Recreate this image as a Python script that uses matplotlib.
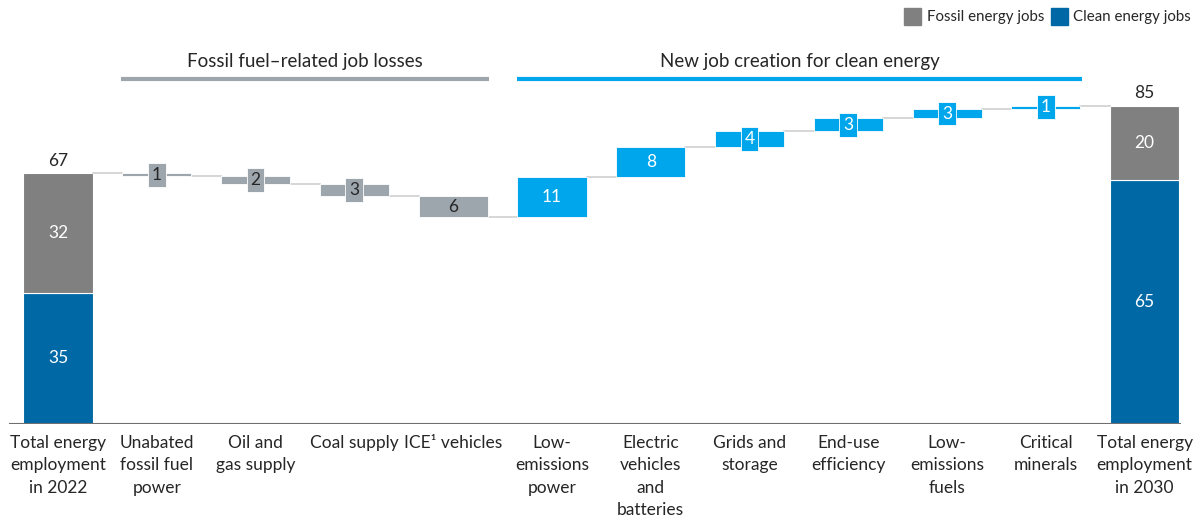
import matplotlib.pyplot as plt
from matplotlib.patches import Rectangle

plt.rcParams['font.family'] = ['Lato', 'DejaVu Sans']

# data (million jobs)
categories = ['Total energy\nemployment\nin 2022', 'Unabated\nfossil fuel\npower',
              'Oil and\ngas supply', 'Coal supply', 'ICE\u00b9 vehicles',
              'Low-\nemissions\npower', 'Electric\nvehicles\nand\nbatteries',
              'Grids and\nstorage', 'End-use\nefficiency', 'Low-\nemissions\nfuels',
              'Critical\nminerals', 'Total energy\nemployment\nin 2030']
start_clean, start_fossil = 35, 32
end_clean, end_fossil = 65, 20
start_total, end_total = 67, 85
loss_values = [-0.9, -2.0, -3.2, -5.7]
loss_labels = ['1', '2', '3', '6']
gain_values = [10.8, 8.0, 4.1, 3.5, 2.5, 0.9]
gain_labels = ['11', '8', '4', '3', '3', '1']

FOSSIL = '#808080'
CLEAN_DARK = '#0068A5'
LOSS = '#9DA5AD'
GAIN = '#00A6EB'
CONN = '#D0D0D0'
TXT = '#262626'

fig = plt.figure(figsize=(12, 5.21), dpi=100)
ax = fig.add_axes([0, 97 / 521, 1, 404.6 / 521])
ax.set_xlim(-0.587, 11.56)
ax.set_ylim(0, 108)
ax.axis('off')

w = 0.7
# start & end totals
ax.bar(0, start_clean, w, color=CLEAN_DARK, edgecolor='white', linewidth=0.8)
ax.bar(0, start_fossil, w, bottom=start_clean, color=FOSSIL, edgecolor='white', linewidth=0.8)
ax.bar(11, end_clean, w, color=CLEAN_DARK, edgecolor='white', linewidth=0.8)
ax.bar(11, end_fossil, w, bottom=end_clean, color=FOSSIL, edgecolor='white', linewidth=0.8)
ax.text(0, start_clean / 2, str(start_clean), ha='center', va='center', color='white', fontsize=12.5)
ax.text(0, start_clean + start_fossil / 2, str(start_fossil), ha='center', va='center', color='white', fontsize=12.5)
ax.text(11, end_clean / 2, str(end_clean), ha='center', va='center', color='white', fontsize=12.5)
ax.text(11, end_clean + end_fossil / 2, str(end_fossil), ha='center', va='center', color='white', fontsize=12.5)
ax.text(0, start_total + 1.2, str(start_total), ha='center', va='bottom', color=TXT, fontsize=12.5)
ax.text(11, end_total + 1.2, str(end_total), ha='center', va='bottom', color=TXT, fontsize=12.5)

# floating steps
deltas = loss_values + gain_values
labels = loss_labels + gain_labels
level = start_total
for i, (d, lab) in enumerate(zip(deltas, labels)):
    x = i + 1
    lo, hi = min(level, level + d), max(level, level + d)
    color = LOSS if d < 0 else GAIN
    tcol = TXT if d < 0 else 'white'
    # connector from previous bar
    ax.plot([x - 1 + w / 2, x - w / 2], [level, level], color=CONN, lw=1.2, zorder=1)
    ax.bar(x, hi - lo, w, bottom=lo, color=color, edgecolor='white', linewidth=0.6, zorder=2)
    if hi - lo < 5:
        ax.text(x, (lo + hi) / 2, lab, ha='center', va='center', color=tcol, fontsize=12.5, zorder=3,
                bbox=dict(boxstyle='square,pad=0.22', fc=color, ec='white', lw=0.6))
    else:
        ax.text(x, (lo + hi) / 2, lab, ha='center', va='center', color=tcol, fontsize=12.5, zorder=3)
    level += d
ax.plot([10 + w / 2, 11 - w / 2], [level, level], color=CONN, lw=1.2, zorder=1)

# baseline
ax.plot([-0.486, 11.36], [0, 0], color='#707070', lw=1.5, zorder=4)

# category labels
for i, c in enumerate(categories):
    ax.text(i, -2.9, c, ha='center', va='top', color=TXT, fontsize=12.5, linespacing=1.5)

# group brackets
ax.plot([0.64, 4.36], [92.1, 92.1], color='#9DA5AD', lw=3, solid_capstyle='butt')
ax.plot([4.65, 10.37], [92.1, 92.1], color=GAIN, lw=3, solid_capstyle='butt')
ax.text(2.5, 94.5, 'Fossil fuel\u2013related job losses', ha='center', va='bottom', color=TXT, fontsize=13.5)
ax.text(7.51, 94.5, 'New job creation for clean energy', ha='center', va='bottom', color=TXT, fontsize=13.5)

# legend
fig.patches.append(Rectangle((904 / 1200, 1 - 25 / 521), 17 / 1200, 17 / 521,
                             transform=fig.transFigure, color=FOSSIL))
fig.text(927 / 1200, 1 - 17 / 521, 'Fossil energy jobs', ha='left', va='center', color=TXT, fontsize=10.8)
fig.patches.append(Rectangle((1051 / 1200, 1 - 25 / 521), 17 / 1200, 17 / 521,
                             transform=fig.transFigure, color=CLEAN_DARK))
fig.text(1073 / 1200, 1 - 17 / 521, 'Clean energy jobs', ha='left', va='center', color=TXT, fontsize=10.8)

fig.savefig('out.png', dpi=100, facecolor='white')
